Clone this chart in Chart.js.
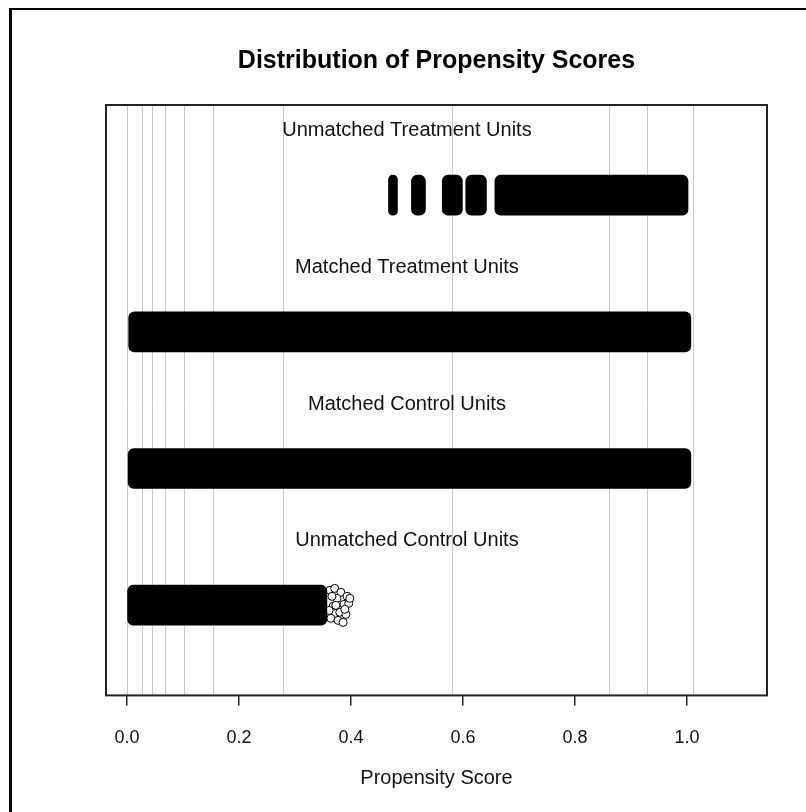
<!DOCTYPE html>
<html>
<head>
<meta charset="utf-8">
<script src="https://cdn.jsdelivr.net/npm/chart.js@4/dist/chart.umd.min.js"></script>
<style>
  body { margin: 0; background: #fff; }
  #wrap { position: relative; width: 806px; height: 812px; }
  #frame { position: absolute; left: 9px; top: 8px; width: 820px; height: 820px;
           border-top: 2px solid #000; border-left: 3px solid #000; pointer-events: none; }
</style>
</head>
<body>
<div id="wrap">
  <canvas id="psChart" width="806" height="812"></canvas>
  <div id="frame"></div>
</div>
<script>
// rows, top to bottom (y value of each band)
const groups = ['Unmatched Treatment Units', 'Matched Treatment Units', 'Matched Control Units', 'Unmatched Control Units'];
const rowY = [4, 3, 2, 1];

// dense jittered point bands, [from, to] propensity score
const unmatchedTreat = [[0.467, 0.483], [0.508, 0.533], [0.563, 0.599], [0.605, 0.642], [0.657, 1.002]];
const matchedTreat = [[0.003, 1.007]];
const matchedCtrl = [[0.002, 1.007]];
const unmatchedCtrl = [[0.001, 0.357]];

// the loose circles at the right end of the unmatched control band
const fringeX = [0.3625, 0.371, 0.382, 0.393, 0.375, 0.3875, 0.396, 0.368, 0.380, 0.391, 0.364, 0.377, 0.386, 0.361, 0.373, 0.389, 0.398, 0.366];
const fringeY = [1.109, 1.123, 1.094, 1.065, 1.050, 1.006, 1.013, 0.992, 0.948, 0.933, 0.904, 0.889, 0.874, 0.962, 0.999, 0.970, 1.050, 1.065];

// grey reference lines and axis ticks
const refLines = [0, 0.026, 0.044, 0.067, 0.102, 0.154, 0.279, 0.580, 0.860, 0.928, 1.010];
const xTicks = [0, 0.2, 0.4, 0.6, 0.8, 1.0];

const FONT = '"Liberation Sans", Arial, sans-serif';
const bands = [unmatchedTreat, matchedTreat, matchedCtrl, unmatchedCtrl];

const barSets = bands.map((segs, i) => ({
  type: 'bar',
  data: segs.map(s => ({ x: s, y: rowY[i] })),
  backgroundColor: '#000',
  borderSkipped: false,
  borderRadius: 6,
  barThickness: 40,
  grouped: false,
  indexAxis: 'y'
}));

const fringe = {
  type: 'scatter',
  data: fringeX.map((x, i) => ({ x: x, y: fringeY[i] })),
  pointStyle: 'circle',
  pointRadius: 4,
  pointBackgroundColor: '#fff',
  pointBorderColor: '#000',
  pointBorderWidth: 1
};

const decor = {
  id: 'decor',
  beforeDatasetsDraw(chart) {
    const { ctx, chartArea: a, scales: { x } } = chart;
    ctx.save();
    ctx.strokeStyle = '#c8c8c8';
    ctx.lineWidth = 1;
    refLines.forEach(v => {
      const px = Math.round(x.getPixelForValue(v)) + 0.5;
      ctx.beginPath();
      ctx.moveTo(px, a.top);
      ctx.lineTo(px, a.bottom);
      ctx.stroke();
    });
    ctx.restore();
  },
  afterDatasetsDraw(chart) {
    const { ctx, chartArea: a, scales: { x, y } } = chart;
    ctx.save();
    ctx.fillStyle = '#111';
    ctx.font = '20px ' + FONT;
    ctx.textAlign = 'center';
    ctx.textBaseline = 'middle';
    const cx = x.getPixelForValue(0.5);
    groups.forEach((g, i) => {
      ctx.fillText(g, cx, y.getPixelForValue(rowY[i] + 0.47));
    });
    // x axis title
    ctx.fillText('Propensity Score', (a.left + a.right) / 2, 778);
    ctx.strokeStyle = '#222';
    ctx.lineWidth = 2;
    ctx.strokeRect(a.left, a.top, a.right - a.left, a.bottom - a.top);
    ctx.restore();
  }
};

new Chart(document.getElementById('psChart'), {
  type: 'bar',
  data: { datasets: [...barSets, fringe] },
  options: {
    responsive: false,
    animation: false,
    indexAxis: 'y',
    layout: { padding: { left: 106, right: 39, top: 0, bottom: 41 } },
    scales: {
      x: {
        type: 'linear',
        min: -0.0375,
        max: 1.143,
        offset: false,
        afterBuildTicks: s => { s.ticks = xTicks.map(v => ({ value: v })); },
        ticks: {
          color: '#111',
          padding: 22,
          autoSkip: false,
          maxRotation: 0,
          font: { family: FONT, size: 18 },
          callback: v => v.toFixed(1)
        },
        grid: { drawOnChartArea: false, drawTicks: true, tickLength: 10, color: '#222', lineWidth: 1.5 },
        border: { display: false }
      },
      y: {
        type: 'linear',
        min: 0.34,
        max: 4.66,
        offset: false,
        display: false
      }
    },
    plugins: {
      legend: { display: false },
      tooltip: { enabled: false },
      title: {
        display: true,
        text: 'Distribution of Propensity Scores',
        color: '#000',
        padding: { top: 46, bottom: 29 },
        font: { family: FONT, size: 25, weight: 'bold' }
      }
    }
  },
  plugins: [decor]
});
</script>
</body>
</html>
